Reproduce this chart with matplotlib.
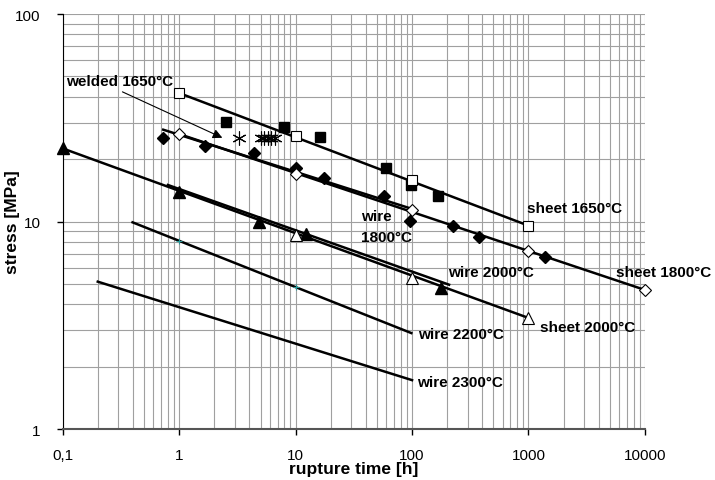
import numpy as np
import matplotlib.pyplot as plt
from matplotlib.ticker import FixedLocator, FuncFormatter, LogLocator, NullFormatter

plt.rcParams['font.family'] = ['Liberation Sans', 'DejaVu Sans']

# welded 1650°C (filled squares) and sheet 1650°C (open squares)
welded_1650_t = [2.55, 7.96, 16.1, 59.4, 98, 168.6]
welded_1650_s = [30.3, 28.6, 25.5, 18.2, 15.0, 13.2]
sheet_1650_t = [1, 10, 100, 1000]
sheet_1650_s = [41.6, 25.9, 15.8, 9.55]
star_t = [3.27, 5.0, 5.4, 5.8, 6.2, 6.6]
star_s = [25.3, 25.3, 25.3, 25.3, 25.3, 25.3]

# 1800°C
wire_1800_t = [0.73, 1.66, 4.4, 10, 17.5, 57, 96, 224, 376, 1396]
wire_1800_s = [25.3, 23.2, 21.4, 18.2, 16.2, 13.2, 10.1, 9.5, 8.4, 6.72]
sheet_1800_t = [1, 10, 100, 1000, 10000]
sheet_1800_s = [26.4, 16.9, 11.3, 7.18, 4.68]

# 2000°C
wire_2000_t = [0.1, 1, 4.83, 12.4, 176]
wire_2000_s = [22.5, 13.9, 9.98, 8.71, 4.77]
sheet_2000_t = [10, 100, 1000]
sheet_2000_s = [8.6, 5.34, 3.43]

# 2200°C points
wire_2200_t = [1, 10]
wire_2200_s = [8.08, 4.82]

# trend lines: (t_start, t_end), (s_start, s_end)
fits = {
    'sheet 1650': ([1, 1000], [41.6, 9.55]),
    'wire 1800': ([0.73, 100], [27.7, 11.5]),
    'sheet 1800': ([1, 10000], [26.4, 4.68]),
    'sheet 2000': ([0.1, 1000], [22.5, 3.43]),
    'wire 2000': ([0.8, 208], [15.0, 4.96]),
    'wire 2200': ([0.398, 98.6], [9.91, 2.90]),
    'wire 2300': ([0.2, 100], [5.13, 1.72]),
}

labels = [
    ('welded 1650°C', 0.106, 47.7),
    ('sheet 1650°C', 979, 11.6),
    ('wire', 36.8, 10.67),
    ('1800°C', 36.8, 8.45),
    ('wire 2000°C', 204, 5.69),
    ('sheet 1800°C', 5606, 5.69),
    ('sheet 2000°C', 1248, 3.09),
    ('wire 2200°C', 112.6, 2.87),
    ('wire 2300°C', 110, 1.69),
]

fig = plt.figure(figsize=(7.15, 4.81), dpi=100)
ax = fig.add_axes([0.0877, 0.106, 0.8143, 0.8628])
ax.set_xscale('log')
ax.set_yscale('log')
ax.set_xlim(0.1, 10000)
ax.set_ylim(1, 100)

for name, (t, s) in fits.items():
    ax.plot(t, s, color='k', lw=1.8, zorder=3)

ms = 7
ax.plot(welded_1650_t, welded_1650_s, 's', color='k', ms=ms, zorder=4, clip_on=False)
ax.plot(sheet_1650_t, sheet_1650_s, 's', mfc='white', mec='k', mew=0.8, ms=ms, zorder=4, clip_on=False)
ax.plot(star_t, star_s, ls='none', marker=(6, 2, 0), color='k', mew=0.8, ms=10, zorder=4)
ax.plot(wire_1800_t, wire_1800_s, 'D', color='k', ms=6, zorder=4, clip_on=False)
ax.plot(sheet_1800_t, sheet_1800_s, 'D', mfc='white', mec='k', mew=0.8, ms=6, zorder=4, clip_on=False)
ax.plot(wire_2000_t, wire_2000_s, '^', color='k', ms=8, zorder=4, clip_on=False)
ax.plot(sheet_2000_t, sheet_2000_s, '^', mfc='white', mec='k', mew=0.8, ms=8, zorder=4, clip_on=False)
ax.plot(wire_2200_t, wire_2200_s, '+', color='#2a9a9a', ms=5, mew=0.8, zorder=4)

ax.annotate('', xy=(2.47, 25.0), xytext=(0.31, 42.7),
            arrowprops=dict(arrowstyle='-|>', color='k', lw=0.8, mutation_scale=14), zorder=5)

for txt, x, y in labels:
    ax.text(x, y, txt, fontsize=11, fontweight='bold', ha='left', va='center', zorder=6)

ax.xaxis.set_major_locator(FixedLocator([0.1, 1, 10, 100, 1000, 10000]))
ax.xaxis.set_minor_locator(LogLocator(base=10, subs=np.arange(2, 10)))
ax.yaxis.set_minor_locator(LogLocator(base=10, subs=np.arange(2, 10)))
ax.xaxis.set_major_formatter(FuncFormatter(lambda v, p: '0,1' if v < 1 else '%d' % v))
ax.yaxis.set_major_formatter(FuncFormatter(lambda v, p: '%d' % v))
ax.xaxis.set_minor_formatter(NullFormatter())
ax.yaxis.set_minor_formatter(NullFormatter())

ax.grid(True, which='both', color='#a0a0a0', lw=0.8)
ax.set_axisbelow(True)
ax.tick_params(which='major', direction='out', length=4, width=1, labelsize=11)
ax.tick_params(axis='x', which='major', pad=10)
ax.tick_params(axis='y', which='major', pad=12)
ax.tick_params(which='minor', length=0)
ax.spines['top'].set_visible(False)
ax.spines['right'].set_visible(False)
ax.spines['left'].set_color('k')
ax.spines['bottom'].set_color('#555555')
ax.spines['bottom'].set_linewidth(1.5)

ax.set_xlabel('rupture time [h]', fontsize=12.5, fontweight='bold')
ax.xaxis.set_label_coords(0.5, -0.077)
ax.set_ylabel('stress [MPa]', fontsize=12.5, fontweight='bold')
ax.yaxis.set_label_coords(-0.073, 0.5)

fig.savefig('out.png', dpi=100)
